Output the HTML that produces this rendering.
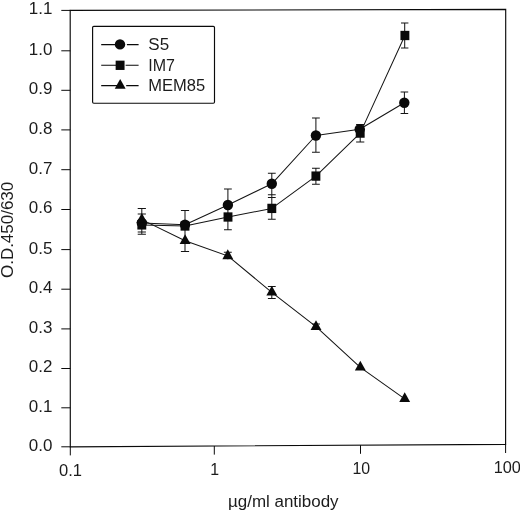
<!DOCTYPE html>
<html lang="en"><head><meta charset="utf-8"><title>O.D.450/630 vs µg/ml antibody</title>
<style>html,body{margin:0;padding:0;background:#fff}body{width:520px;height:513px;overflow:hidden}</style>
</head><body>
<svg width="520" height="513" viewBox="0 0 520 513" style="display:block;will-change:transform">
<rect width="520" height="513" fill="#fff"/>
<g fill="none" stroke="#0a0a0a" stroke-width="1.15" stroke-linecap="butt">
<path d="M70.2 10.4 L505.7 9.4 L505.6 444.4 L70.3 446.8 Z"/>
<path d="M61.3 446.80 L70.3 446.80" stroke-width="1"/>
<path d="M61.3 407.80 L70.3 407.80" stroke-width="1"/>
<path d="M61.3 368.50 L70.3 368.50" stroke-width="1"/>
<path d="M61.3 328.90 L70.3 328.90" stroke-width="1"/>
<path d="M61.3 289.20 L70.3 289.20" stroke-width="1"/>
<path d="M61.3 249.60 L70.3 249.60" stroke-width="1"/>
<path d="M61.3 209.50 L70.3 209.50" stroke-width="1"/>
<path d="M61.3 169.70 L70.3 169.70" stroke-width="1"/>
<path d="M61.3 129.90 L70.3 129.90" stroke-width="1"/>
<path d="M61.3 90.30 L70.3 90.30" stroke-width="1"/>
<path d="M61.3 50.80 L70.3 50.80" stroke-width="1"/>
<path d="M61.3 10.40 L70.3 10.40" stroke-width="1"/>
<path d="M70.3 446.80 L70.3 455.40" stroke-width="1"/>
<path d="M214.3 446.01 L214.3 454.61" stroke-width="1"/>
<path d="M360.5 445.20 L360.5 453.80" stroke-width="1"/>
<path d="M505.6 444.40 L505.6 453.00" stroke-width="1"/>
</g>
<g fill="none" stroke="#141414" stroke-width="1.02" stroke-linejoin="round">
<path d="M141.8 222.9 L185.0 224.7 L227.9 205.0 L271.8 183.8 L315.9 135.5 L359.7 129.3 L404.3 102.7"/>
<path d="M141.8 224.9 L185.0 226.0 L228.0 217.0 L271.8 208.4 L315.9 176.1 L360.2 133.1 L404.9 35.5"/>
<path d="M141.8 219.6 L185.1 240.8 L227.8 255.9 L271.8 292.3 L316.0 326.7 L360.3 367.3 L404.7 398.8"/>
<path d="M141.8 208.4 L141.8 234.3 M137.70 208.4 L145.90 208.4 M137.70 213.9 L145.90 213.9 M137.70 232.1 L145.90 232.1 M137.70 234.3 L145.90 234.3"/>
<path d="M185.0 210.5 L185.0 251.5 M180.90 210.5 L189.10 210.5 M180.90 251.5 L189.10 251.5"/>
<path d="M227.9 189.1 L227.9 229.7 M224.00 189.1 L231.80 189.1 M224.00 229.7 L231.80 229.7"/>
<path d="M271.8 173.2 L271.8 219.3 M267.90 173.2 L275.70 173.2 M267.90 194.8 L275.70 194.8 M267.90 197.5 L275.70 197.5 M267.90 219.3 L275.70 219.3"/>
<path d="M271.8 286.4 L271.8 298.4 M267.90 286.4 L275.70 286.4 M267.90 298.4 L275.70 298.4"/>
<path d="M315.9 118.1 L315.9 152.2 M312.00 118.1 L319.80 118.1 M312.00 152.2 L319.80 152.2"/>
<path d="M315.9 168.2 L315.9 184.2 M312.00 168.2 L319.80 168.2 M312.00 184.2 L319.80 184.2"/>
<path d="M360.2 124.6 L360.2 142.0 M356.10 124.6 L364.30 124.6 M356.10 142.0 L364.30 142.0"/>
<path d="M227.8 252.3 L227.8 259.2 M223.85 252.3 L231.75 252.3"/>
<path d="M316.0 324.0 L316.0 329 M312.05 324.0 L319.95 324.0"/>
<path d="M404.4 92.1 L404.4 113.6 M400.60 92.1 L408.20 92.1 M400.60 113.6 L408.20 113.6"/>
<path d="M404.7 23.0 L404.7 48.1 M401.00 23.0 L408.40 23.0 M401.00 48.1 L408.40 48.1"/>
</g>
<g fill="#0a0a0a" stroke="none">
<circle cx="141.8" cy="222.9" r="5.2"/>
<circle cx="185.0" cy="224.7" r="5.2"/>
<circle cx="227.9" cy="205.0" r="5.2"/>
<circle cx="271.8" cy="183.8" r="5.2"/>
<circle cx="315.9" cy="135.5" r="5.2"/>
<circle cx="359.7" cy="129.3" r="5.2"/>
<circle cx="404.3" cy="102.7" r="5.2"/>
<rect x="137.35" y="220.25" width="8.9" height="9.3"/>
<rect x="180.55" y="221.35" width="8.9" height="9.3"/>
<rect x="223.55" y="212.35" width="8.9" height="9.3"/>
<rect x="267.35" y="203.75" width="8.9" height="9.3"/>
<rect x="311.45" y="171.45" width="8.9" height="9.3"/>
<rect x="355.75" y="128.45" width="8.9" height="9.3"/>
<rect x="400.45" y="30.85" width="8.9" height="9.3"/>
<path d="M141.8 213.07 L147.25 222.87 L136.35 222.87 Z"/>
<path d="M185.1 234.27 L190.55 244.07 L179.65 244.07 Z"/>
<path d="M227.8 249.37 L233.25 259.17 L222.35 259.17 Z"/>
<path d="M271.8 285.77 L277.25 295.57 L266.35 295.57 Z"/>
<path d="M316.0 320.17 L321.45 329.97 L310.55 329.97 Z"/>
<path d="M360.3 360.77 L365.75 370.57 L354.85 370.57 Z"/>
<path d="M404.7 392.27 L410.15 402.07 L399.25 402.07 Z"/>
</g>
<rect x="92.6" y="26.3" width="121.9" height="76.9" rx="1.2" fill="#fff" stroke="#0a0a0a" stroke-width="1.15"/>
<g fill="none" stroke="#0a0a0a" stroke-width="1.15">
<path d="M101.2 44.6 L120 44.6 M126.9 44.6 L138.6 44.6"/>
<path d="M101.2 65.2 L120 65.2 M125.6 65.2 L138.6 65.2"/>
<path d="M101.2 85.6 L120 85.6 M126.2 85.6 L138.6 85.6"/>
</g>
<g fill="#0a0a0a"><circle cx="120" cy="44.4" r="5.2"/><rect x="115.65" y="60.65" width="8.9" height="9.3"/><path d="M120.2 79.07 L125.65 88.87 L114.75 88.87 Z"/></g>
<g font-family='"Liberation Sans", Arial, sans-serif' fill="#1c1c1c">
<text x="148.3" y="49.9" font-size="16" textLength="20.8" lengthAdjust="spacingAndGlyphs">S5</text>
<text x="148.3" y="70.6" font-size="16">IM7</text>
<text x="148.3" y="90.7" font-size="16" textLength="56.9" lengthAdjust="spacingAndGlyphs">MEM85</text>
<text x="52.4" y="450.70" font-size="15.8" text-anchor="end" textLength="23.6" lengthAdjust="spacingAndGlyphs">0.0</text>
<text x="52.4" y="411.70" font-size="15.8" text-anchor="end" textLength="23.6" lengthAdjust="spacingAndGlyphs">0.1</text>
<text x="52.4" y="372.40" font-size="15.8" text-anchor="end" textLength="23.6" lengthAdjust="spacingAndGlyphs">0.2</text>
<text x="52.4" y="332.80" font-size="15.8" text-anchor="end" textLength="23.6" lengthAdjust="spacingAndGlyphs">0.3</text>
<text x="52.4" y="293.10" font-size="15.8" text-anchor="end" textLength="23.6" lengthAdjust="spacingAndGlyphs">0.4</text>
<text x="52.4" y="253.50" font-size="15.8" text-anchor="end" textLength="23.6" lengthAdjust="spacingAndGlyphs">0.5</text>
<text x="52.4" y="213.40" font-size="15.8" text-anchor="end" textLength="23.6" lengthAdjust="spacingAndGlyphs">0.6</text>
<text x="52.4" y="173.60" font-size="15.8" text-anchor="end" textLength="23.6" lengthAdjust="spacingAndGlyphs">0.7</text>
<text x="52.4" y="133.80" font-size="15.8" text-anchor="end" textLength="23.6" lengthAdjust="spacingAndGlyphs">0.8</text>
<text x="52.4" y="94.20" font-size="15.8" text-anchor="end" textLength="23.6" lengthAdjust="spacingAndGlyphs">0.9</text>
<text x="52.4" y="54.70" font-size="15.8" text-anchor="end" textLength="23.6" lengthAdjust="spacingAndGlyphs">1.0</text>
<text x="52.4" y="14.30" font-size="15.8" text-anchor="end" textLength="23.6" lengthAdjust="spacingAndGlyphs">1.1</text>
<text x="70.5" y="476.40" font-size="15.9" text-anchor="middle" textLength="23.0" lengthAdjust="spacingAndGlyphs">0.1</text>
<text x="214.6" y="474.70" font-size="15.9" text-anchor="middle">1</text>
<text x="361.3" y="474.10" font-size="15.9" text-anchor="middle">10</text>
<text x="507.3" y="473.29" font-size="15.9" text-anchor="middle" textLength="27.2" lengthAdjust="spacingAndGlyphs">100</text>
<text x="283.3" y="506.7" font-size="16" text-anchor="middle" textLength="110.6" lengthAdjust="spacingAndGlyphs">µg/ml antibody</text>
<text transform="translate(13.2 229.9) rotate(-90)" font-size="16.5" text-anchor="middle" textLength="96.3" lengthAdjust="spacingAndGlyphs">O.D.450/630</text>
</g>
</svg>
</body></html>
